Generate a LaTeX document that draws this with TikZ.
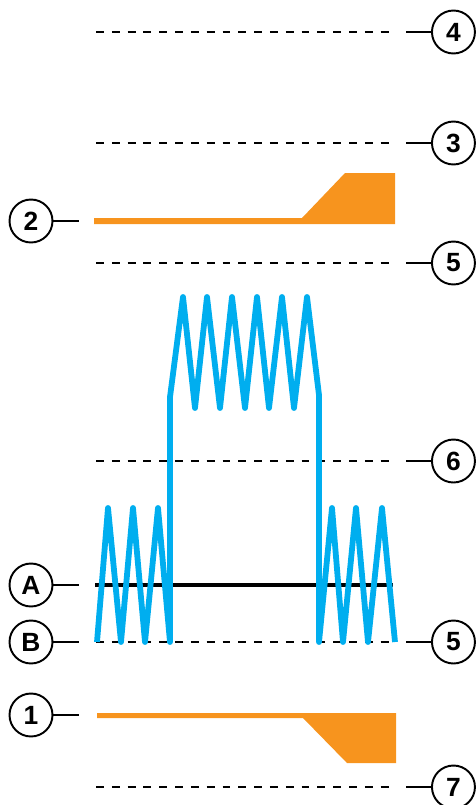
\documentclass[tikz,border=0pt]{standalone}
\usepackage{fontspec}
\setmainfont{Liberation Sans}
\usetikzlibrary{positioning}
\definecolor{wireblue}{RGB}{0,174,239}
\definecolor{padorange}{RGB}{247,148,30}
\tikzset{
  callout/.style={circle, draw, line width=1.1pt, minimum size=0.86cm, inner sep=0pt,
    font=\bfseries\fontsize{15}{15}\selectfont},
  leader/.style={line width=0.8pt},
  levelline/.style={line width=1.3pt, dash pattern=on 4.5pt off 4.5pt},
  wire/.style={wireblue, line width=3.3pt, line join=round},
}
\begin{document}
\begin{tikzpicture}[x=0.02cm, y=-0.02cm]
  \useasboundingbox (0,0) rectangle (476,805);

  % dashed levels with callouts on the right
  \foreach \lbl/\y [count=\i] in {4/32, 3/143, 5/263, 6/461, 5/642, 7/787} {
    \coordinate (s\i) at (96,\y);
    \coordinate (e\i) at (393,\y);
    \draw[levelline] (s\i) -- (e\i);
    \node[callout] (r\i) [right=0.76cm of e\i] {\lbl};
    \coordinate (t\i) at (406,\y);
    \draw[leader] (t\i) -- (r\i);
  }

  % callouts on the left
  \foreach \lbl/\y in {2/221, A/585, B/642, 1/715} {
    \node[callout] (l\lbl) at (31,\y) {\lbl};
    \coordinate (m\lbl) at (79,\y);
    \draw[leader] (l\lbl) -- (m\lbl);
  }

  % orange profiles
  \fill[padorange] (94,218) -- (302,218) -- (345,173) -- (395,173) -- (395,224) -- (94,224) -- cycle; %2
  \fill[padorange] (97,713) -- (396,713) -- (396,763) -- (347,763) -- (303,718) -- (97,718) -- cycle; %1

  % black line A
  \draw[line width=2.8pt] (95,585) -- (393,585);

  % blue wire
  \draw[wire] (97,642) -- (108,508) -- (121,642) -- (133,508) -- (145,642) -- (158,508) -- (170,642)
    -- (170,397) -- (183,297) -- (195,408) -- (207,297) -- (220,408) -- (232,297) -- (245,408)
    -- (257,297) -- (269,408) -- (282,297) -- (294,408) -- (307,297) -- (319,395)
    -- (319,642) -- (332,508) -- (343,642) -- (356,508) -- (368,642) -- (382,508) -- (395,642);
\end{tikzpicture}
\end{document}
